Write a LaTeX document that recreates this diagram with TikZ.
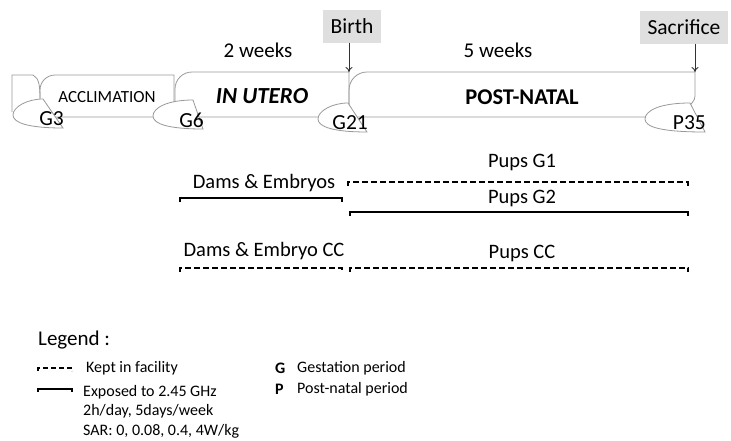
\documentclass[tikz,border=0pt]{standalone}
\usepackage{fontspec}
\setmainfont{Carlito}
\usetikzlibrary{arrows.meta}

\tikzset{
  boxline/.style={draw=gray!80, line width=0.8pt},
  tagshape/.style={draw=gray!80, line width=0.8pt, fill=white},
  daytext/.style={inner sep=0pt, font=\fontsize{21.5}{24}\selectfont},
  eventbox/.style={fill=gray!25, minimum height=33pt, inner xsep=8pt, font=\fontsize{21.5}{24}\selectfont},
  weeks/.style={inner sep=0pt, font=\fontsize{21}{24}\selectfont},
  grouplabel/.style={inner sep=0pt, font=\fontsize{20.5}{24}\selectfont},
  legendtext/.style={inner sep=0pt, anchor=west, font=\fontsize{16}{19.5}\selectfont},
  exposed/.style={line width=1.6pt},
  kept/.style={line width=1.6pt, dash pattern=on 6pt off 3pt},
  eventarrow/.style={-{To[length=5pt,width=7pt]}, line width=0.9pt, black!80},
}

% name, left x, mid y, top-right x, bottom-right x, label
\newcommand{\daytag}[6]{%
  \draw[tagshape] (#4,#3-16) .. controls (#2+14,#3-16) and (#2,#3-8) .. (#2,#3)
    .. controls (#2,#3+8) and (#2+16,#3+13) .. (#5,#3+13) -- cycle;
  \node[daytext, anchor=east] (#1) at (#5+1,#3+4) {#6};
}

\begin{document}
\begin{tikzpicture}[x=1pt, y=-1pt]
  \useasboundingbox (0,0) rectangle (731,440);

  % phases
  \draw[boxline] (12,112) -- (12,75) -- (33,75) .. controls (39,78) and (40,86) .. (40,98);
  \draw[boxline] (40,117) [rounded corners=15pt] -- (40,75) [sharp corners] -- (174,75) -- (174,117) -- cycle;
  \draw[boxline] (175,117) [rounded corners=17pt] -- (175,72) [sharp corners] -- (349,72) -- (349,117) -- cycle;
  \draw[boxline] (349,117) [rounded corners=18pt] -- (349,72) [sharp corners] -- (695,72) -- (695,96)
    .. controls (695,101) and (691,103) .. (690,106) -- (690,117) -- cycle;

  \node[inner sep=0pt, font=\fontsize{17}{20}\selectfont] (acclim) at (107,97) {ACCLIMATION};
  \node[inner sep=0pt, font=\fontsize{23}{26}\selectfont\bfseries\itshape] (utero) at (262,96) {IN UTERO};
  \node[inner sep=0pt, font=\fontsize{22.5}{26}\selectfont\bfseries] (natal) at (522,97) {POST-NATAL};

  \daytag{g3}{13}{115}{43}{63}{G3}
  \daytag{g6}{153}{116}{193}{203}{G6}
  \daytag{g21}{318}{119}{348}{367}{G21}
  \daytag{p35}{645}{119}{690}{705}{P35}

  % events
  \node[eventbox] (birth) at (352,26) {Birth};
  \node[eventbox] (sacrifice) at (684,27) {Sacrifice};
  \coordinate (birthpt) at (349,72);
  \coordinate (sacrificept) at (695,72);
  \draw[eventarrow] (birth.south -| birthpt) -- (birthpt);
  \draw[eventarrow] (sacrifice.south -| sacrificept) -- (sacrificept);

  \node[weeks] (two) at (258,50) {2 weeks};
  \node[weeks] (five) at (498,50) {5 weeks};

  % groups
  \coordinate (dams1) at (180,198);  \coordinate (dams2) at (342,198);
  \coordinate (g1a) at (348,182);    \coordinate (g1b) at (688,182);
  \coordinate (g2a) at (350,212);    \coordinate (g2b) at (688,212);
  \coordinate (ccd1) at (180,268);   \coordinate (ccd2) at (342,268);
  \coordinate (ccp1) at (350,268);   \coordinate (ccp2) at (688,268);

  \draw[exposed] (dams1) ++(0,4) -- (dams1) -- (dams2) -- ++(0,4);
  \draw[kept] (g1a) ++(0,4) -- (g1a) -- (g1b) -- ++(0,4);
  \draw[exposed] (g2a) ++(0,4) -- (g2a) -- (g2b) -- ++(0,4);
  \draw[kept] (ccd1) ++(0,4) -- (ccd1) -- (ccd2) -- ++(0,4);
  \draw[kept] (ccp1) ++(0,4) -- (ccp1) -- (ccp2) -- ++(0,4);

  \node[grouplabel] (damslbl) at (264,183) {Dams \& Embryos};
  \node[grouplabel] (g1lbl) at (522,162) {Pups G1};
  \node[grouplabel] (g2lbl) at (522,198) {Pups G2};
  \node[grouplabel] (ccdlbl) at (264,251) {Dams \& Embryo CC};
  \node[grouplabel] (ccplbl) at (522,253) {Pups CC};

  % legend
  \node[inner sep=0pt, anchor=west, font=\fontsize{21}{24}\selectfont] (legend) at (38,340) {Legend :};
  \coordinate (keptA) at (38,368);  \coordinate (keptB) at (72,368);
  \coordinate (expA) at (38,389);   \coordinate (expB) at (72,389);
  \draw[kept, dash pattern=on 5pt off 3pt] (keptA) ++(0,3) -- (keptA) -- (keptB) -- ++(0,3);
  \draw[exposed] (expA) ++(0,3) -- (expA) -- (expB) -- ++(0,3);
  \node[legendtext] (keptlbl) at (86,368) {Kept in facility};
  \node[legendtext, anchor=north west, align=left] (explbl) at (83,385)
    {Exposed to 2.45 GHz\\2h/day, 5days/week\\SAR: 0, 0.08, 0.4, 4W/kg};
  \node[legendtext, font=\fontsize{16}{19.5}\selectfont\bfseries] (gkey) at (275,368) {G};
  \node[legendtext] (gtext) at (297,368) {Gestation period};
  \node[legendtext, font=\fontsize{16}{19.5}\selectfont\bfseries] (pkey) at (275,389) {P};
  \node[legendtext] (ptext) at (297,389) {Post-natal period};
\end{tikzpicture}
\end{document}
